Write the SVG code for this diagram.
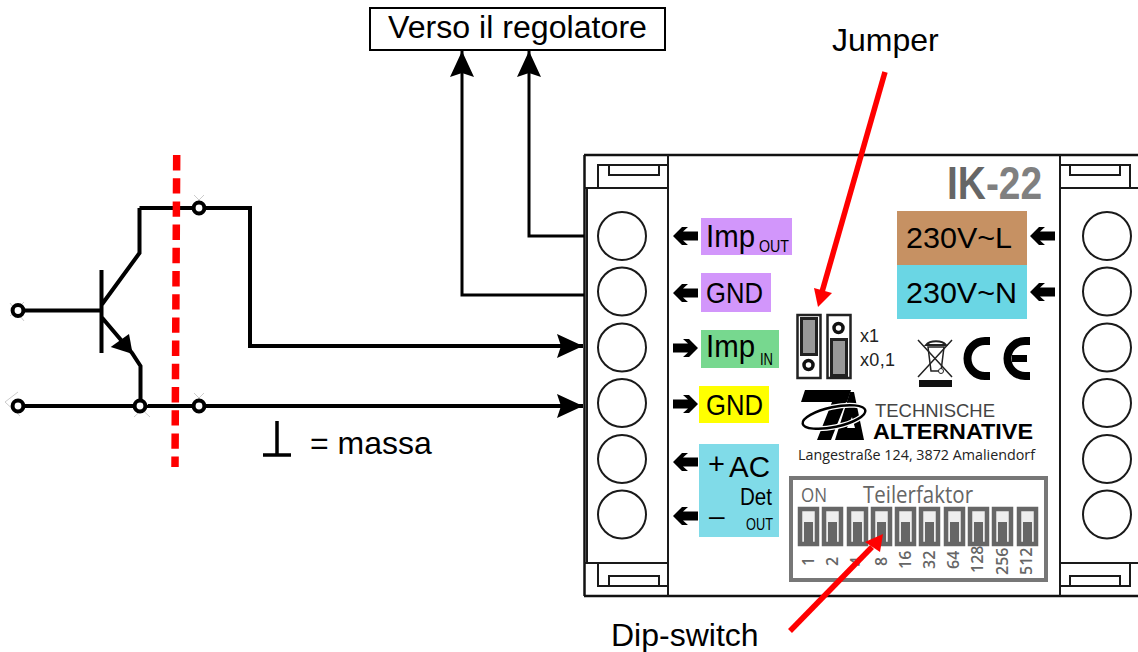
<svg xmlns="http://www.w3.org/2000/svg" width="1138" height="652" viewBox="0 0 1138 652">
<style>
text{font-family:"Liberation Sans",Arial,sans-serif;fill:#000}
.cb{fill:none;stroke:#1a1a1a;stroke-width:2}
.w{fill:none;stroke:#000;stroke-width:4}
.t{fill:none;stroke:#000;stroke-width:3}
.nd{fill:#fff;stroke:#000;stroke-width:4}
.dip{fill:#eee;stroke:#666;stroke-width:4.5}
.dn{fill:#666}
.n{font-size:16px;font-weight:600;fill:#666;font-family:"Open Sans",sans-serif}
.tick{fill:none;stroke:#ccc;stroke-width:1}
</style>
<defs>
<marker id="ah" markerUnits="userSpaceOnUse" markerWidth="27" markerHeight="25" refX="26" refY="12" orient="auto"><path d="M0 0L26 12L0 24L4 12z" fill="#000"/></marker>
<path id="sa" d="M0 0L9-9H15L10-4.500H25V4.500H10L15 9H9z" fill="#000"/>
</defs>

<g id="device">
<path d="M584 155H1138M584 596H1138" fill="none" stroke="#111" stroke-width="2.500"/>
<path d="M584.500 155V596" fill="none" stroke="#111" stroke-width="2.500"/>
</g>
<g id="terminal-left">
<path class="cb" d="M668 155V596M587 188V563M584 188H668M584 563H668M598 188V165H668M609 165V175H659V165M598 563V586H668M609 586V576H659V586"/>
<circle class="cb" cx="622" cy="236" r="24"/><circle class="cb" cx="622" cy="291.500" r="24"/><circle class="cb" cx="622" cy="347.500" r="24"/><circle class="cb" cx="622" cy="403" r="24"/><circle class="cb" cx="622" cy="459" r="24"/><circle class="cb" cx="622" cy="514.500" r="24"/>
</g>
<g id="terminal-right">
<path class="cb" d="M1060 155V596M1060 188H1138M1060 563H1138M1130 188V165H1060M1070 165V175H1120V165M1130 563V586H1060M1070 586V576H1120V586"/>
<circle class="cb" cx="1107" cy="236" r="24"/><circle class="cb" cx="1107" cy="291.500" r="24"/><circle class="cb" cx="1107" cy="347.500" r="24"/><circle class="cb" cx="1107" cy="403" r="24"/><circle class="cb" cx="1107" cy="459" r="24"/><circle class="cb" cx="1107" cy="514.500" r="24"/>
</g>

<g id="label-imp-out"><rect x="701" y="218" width="91" height="37" fill="#d296fb"/><text x="706" y="247" font-size="31" textLength="49" lengthAdjust="spacingAndGlyphs">Imp</text><text x="759" y="252" font-size="17" textLength="30" lengthAdjust="spacingAndGlyphs">OUT</text><use href="#sa" x="673" y="236"/></g>
<g id="label-gnd-out"><rect x="701" y="273" width="70" height="39" fill="#d296fb"/><text x="706" y="303" font-size="30" textLength="57" lengthAdjust="spacingAndGlyphs">GND</text><use href="#sa" x="673" y="293"/></g>
<g id="label-imp-in"><rect x="701" y="330" width="78" height="38" fill="#77d88f"/><text x="706" y="357" font-size="31" textLength="49" lengthAdjust="spacingAndGlyphs">Imp</text><text x="760" y="365" font-size="17" textLength="13" lengthAdjust="spacingAndGlyphs">IN</text><use href="#sa" transform="translate(698 348) scale(-1 1)"/></g>
<g id="label-gnd-in"><rect x="699" y="386" width="70" height="37" fill="#ff0"/><text x="706" y="415" font-size="30" textLength="57" lengthAdjust="spacingAndGlyphs">GND</text><use href="#sa" transform="translate(698 404) scale(-1 1)"/></g>
<g id="label-ac"><rect x="699" y="444" width="80" height="93" fill="#80dbe8"/>
<text x="708" y="474" font-size="29">+</text><text x="729" y="477" font-size="30" textLength="41" lengthAdjust="spacingAndGlyphs">AC</text><text x="740" y="505" font-size="24" textLength="32" lengthAdjust="spacingAndGlyphs">Det</text><text x="709" y="525" font-size="28">–</text><text x="746" y="530" font-size="17" textLength="27" lengthAdjust="spacingAndGlyphs">OUT</text>
<use href="#sa" x="673" y="462"/><use href="#sa" x="673" y="516"/></g>

<g id="title-ik22"><text transform="translate(947 199) scale(.855 1)" font-size="45.500" font-weight="bold" style="fill:#666">IK<tspan style="fill:#808080">-22</tspan></text></g>
<g id="label-230l"><rect x="897" y="211" width="130" height="54" fill="#c69163"/><text x="906" y="248" font-size="30" textLength="106" lengthAdjust="spacingAndGlyphs">230V~L</text><use href="#sa" x="1030" y="236"/></g>
<g id="label-230n"><rect x="897" y="265" width="130" height="54" fill="#6ad6e4"/><text x="906" y="303" font-size="30" textLength="111" lengthAdjust="spacingAndGlyphs">230V~N</text><use href="#sa" x="1030" y="292"/></g>

<g id="jumper">
<rect x="797.500" y="315" width="23" height="63" fill="#fff" stroke="#222" stroke-width="2.500"/>
<rect x="801.500" y="318.500" width="15" height="36" fill="#999" stroke="#222" stroke-width="3"/>
<circle cx="808.500" cy="365" r="4.500" fill="#fff" stroke="#111" stroke-width="3.500"/>
<rect x="827.500" y="315" width="23" height="63" fill="#fff" stroke="#222" stroke-width="2.500"/>
<circle cx="838.500" cy="328" r="4.500" fill="#fff" stroke="#111" stroke-width="3.500"/>
<rect x="831.500" y="339.500" width="15" height="36" fill="#999" stroke="#222" stroke-width="3"/>
<text x="860" y="342" font-size="18" style="fill:#222">x1</text><text x="860" y="366" font-size="18" textLength="35" style="fill:#222">x0,1</text>
</g>

<g id="marks">
<path d="M918 340L952 377M952 340L918 377" stroke="#222" stroke-width="1.500" fill="none"/>
<path d="M928 347H944L941 371H931z" fill="none" stroke="#222" stroke-width="1.500"/>
<path d="M926 345C930 340 942 340 946 345z" fill="none" stroke="#222" stroke-width="2"/>
<circle cx="941" cy="371" r="2.500" fill="#fff" stroke="#222"/>
<path d="M919 380H952V387H919z" fill="#111"/>
<path d="M990 341H985A17.500 17.500 0 0 0 985 376H990" fill="none" stroke="#000" stroke-width="8"/>
<path d="M1030 341H1025A17.500 17.500 0 0 0 1025 376H1030" fill="none" stroke="#000" stroke-width="8"/>
<path d="M1012 358.500H1027" stroke="#000" stroke-width="7"/>
</g>

<g id="logo">
<path d="M805 390H851L847 402H846L831 440H817L832 402H801z" fill="#000"/>
<path d="M850 392H854L864 440H835z" fill="#000"/>
<path d="M847 428L852 417L855 428z" fill="#fff"/>
<ellipse cx="834" cy="417" rx="32" ry="10" transform="rotate(-12 834 417)" fill="none" stroke="#fff" stroke-width="5"/>
<ellipse cx="834" cy="417" rx="32" ry="10" transform="rotate(-12 834 417)" fill="none" stroke="#000" stroke-width="2.500"/>
<text x="875" y="417" font-size="18" textLength="120" lengthAdjust="spacingAndGlyphs" style="fill:#444">TECHNISCHE</text>
<text x="873" y="439" font-size="22" font-weight="bold" textLength="160" lengthAdjust="spacingAndGlyphs">ALTERNATIVE</text>
<text x="798" y="460" font-size="14.500" textLength="237" lengthAdjust="spacingAndGlyphs" style="fill:#222;font-family:'Open Sans',sans-serif">Langestraße 124, 3872 Amaliendorf</text>
</g>

<g id="dip-switch">
<rect x="791" y="478" width="255" height="102" fill="#fff" stroke="#777" stroke-width="4"/>
<text x="801" y="502" font-size="19.500" textLength="26" lengthAdjust="spacingAndGlyphs" style="fill:#666;font-family:'Open Sans',sans-serif">ON</text>
<text x="863" y="503" font-size="24" textLength="110" lengthAdjust="spacingAndGlyphs" style="fill:#666;font-family:'Open Sans',sans-serif">Teilerfaktor</text>
<rect x="800" y="509" width="17" height="35" class="dip"/><rect x="804" y="522" width="9" height="20" class="dn"/>
<rect x="824" y="509" width="17" height="35" class="dip"/><rect x="828" y="522" width="9" height="20" class="dn"/>
<rect x="849" y="509" width="17" height="35" class="dip"/><rect x="853" y="522" width="9" height="20" class="dn"/>
<rect x="873" y="509" width="17" height="35" class="dip"/><rect x="877" y="522" width="9" height="20" class="dn"/>
<rect x="897" y="509" width="17" height="35" class="dip"/><rect x="901" y="522" width="9" height="20" class="dn"/>
<rect x="921" y="509" width="17" height="35" class="dip"/><rect x="925" y="522" width="9" height="20" class="dn"/>
<rect x="946" y="509" width="17" height="35" class="dip"/><rect x="950" y="522" width="9" height="20" class="dn"/>
<rect x="970" y="509" width="17" height="35" class="dip"/><rect x="974" y="522" width="9" height="20" class="dn"/>
<rect x="994" y="509" width="17" height="35" class="dip"/><rect x="998" y="522" width="9" height="20" class="dn"/>
<rect x="1019" y="509" width="17" height="35" class="dip"/><rect x="1023" y="522" width="9" height="20" class="dn"/>
<text class="n" transform="translate(814 566) rotate(-90)" style="fill:#666">1</text>
<text class="n" transform="translate(838 566) rotate(-90)" style="fill:#666">2</text>
<text class="n" transform="translate(862 566) rotate(-90)" style="fill:#666">4</text>
<text class="n" transform="translate(887 566) rotate(-90)" style="fill:#666">8</text>
<text class="n" transform="translate(911 569) rotate(-90)" style="fill:#666">16</text>
<text class="n" transform="translate(935 569) rotate(-90)" style="fill:#666">32</text>
<text class="n" transform="translate(959 569) rotate(-90)" style="fill:#666">64</text>
<text class="n" transform="translate(983 573) rotate(-90)" style="fill:#666">128</text>
<text class="n" transform="translate(1008 575) rotate(-90)" style="fill:#666">256</text>
<text class="n" transform="translate(1032 575) rotate(-90)" style="fill:#666">512</text>
</g>

<g id="label-regolatore"><rect x="370" y="8" width="295" height="42" fill="#fff" stroke="#000" stroke-width="2"/><text x="388" y="38" font-size="31" textLength="259" lengthAdjust="spacingAndGlyphs">Verso il regolatore</text></g>
<g id="label-jumper"><text x="832" y="51" font-size="32">Jumper</text></g>
<g id="label-dip"><text x="611" y="646" font-size="32">Dip-switch</text></g>
<g id="label-massa"><path d="M277 421V455M263 455H291" fill="none" stroke="#000" stroke-width="3.500"/><text x="310" y="454" font-size="32">= massa</text></g>

<g id="connectors">
<path class="t" d="M584 236H529V51" marker-end="url(#ah)"/>
<path class="t" d="M584 295H462V51" marker-end="url(#ah)"/>
<path class="w" d="M199 208H250V346H583" marker-end="url(#ah)"/>
<path class="w" d="M199 406H583" marker-end="url(#ah)"/>
<path class="w" d="M18 310.500H101M18 406H199M139.500 208H199M139.500 208V253L101.500 305M101.500 317L132 353L140.500 366V406M101.500 270V353"/>
<path d="M110.700 347L129 334L132.700 354z" fill="#000"/>
<path class="tick" d="M10 316L24 302M10 303L24 321M5 402L18 392M5 402L20 416M134 417L148 404M150 417L136 404M194 195L204 205M204 195L194 205M194 393L204 403M204 393L194 403"/>
<circle class="nd" cx="18" cy="310.500" r="5.400"/><circle class="nd" cx="18" cy="406" r="5.400"/><circle class="nd" cx="140" cy="406" r="5.400"/><circle class="nd" cx="199" cy="208" r="5.400"/><circle class="nd" cx="199" cy="406" r="5.400"/>
<path d="M176.700 155L175 467" fill="none" stroke="#f00" stroke-width="7.500" stroke-dasharray="15.400 7.800"/>
<path d="M885 72L822 292" fill="none" stroke="#f00" stroke-width="5.500"/>
<path d="M814 288L832 293L818 307z" fill="#f00"/>
<path d="M790 631L872 547" fill="none" stroke="#f00" stroke-width="5.500"/>
<path d="M865 542L883 534L880 552z" fill="#f00"/>
</g>
</svg>
